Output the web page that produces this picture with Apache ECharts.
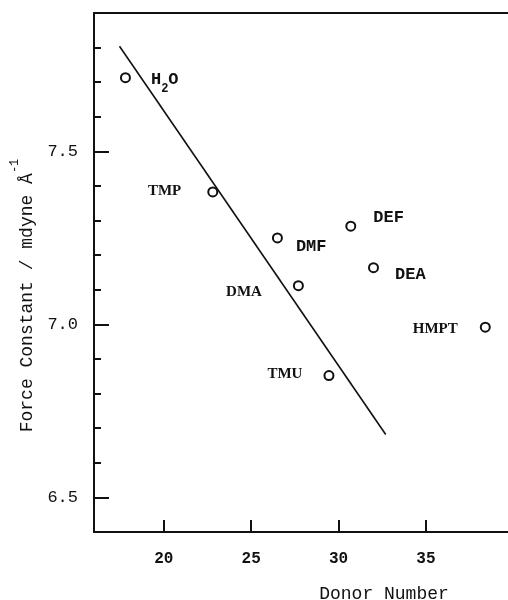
<!DOCTYPE html>
<html>
<head>
<meta charset="utf-8">
<script src="https://cdn.jsdelivr.net/npm/echarts@6/dist/echarts.min.js"></script>
<style>
html,body{margin:0;padding:0;background:#fff;}
#c{width:508px;height:600px;}
</style>
</head>
<body>
<div id="c"></div>
<script>
// ---- data ----
const solvents = ['H2O', 'TMP', 'DMF', 'DEF', 'DEA', 'DMA', 'TMU', 'HMPT'];
const donorNumber = [17.8, 22.8, 26.5, 30.7, 32.0, 27.7, 29.45, 38.4];
const forceConstant = [7.713, 7.383, 7.250, 7.284, 7.164, 7.112, 6.852, 6.992];
const fitLineX = [17.46, 32.70];
const fitLineY = [7.804, 6.682];
const xTickValues = [20, 25, 30, 35];
const yMajorTicks = [6.5, 7.0, 7.5];
const yMinorTicks = [6.6, 6.7, 6.8, 6.9, 7.1, 7.2, 7.3, 7.4, 7.6, 7.7, 7.8];

const MONO = '"Liberation Mono", "DejaVu Sans Mono", monospace';
const SERIF = '"Liberation Serif", "DejaVu Serif", serif';
const INK = '#111';

// per-label placement (style only)
const labelStyle = {
  'H2O':  {position: 'right', distance: 20, offset: [0, 2], font: 'mono'},
  'TMP':  {position: 'left', distance: 26, offset: [0, -1], font: 'serif'},
  'DMF':  {position: 'right', distance: 13, offset: [0, 9], font: 'mono'},
  'DEF':  {position: 'right', distance: 17, offset: [0, -8], font: 'mono'},
  'DEA':  {position: 'right', distance: 16, offset: [0, 7], font: 'mono'},
  'DMA':  {position: 'left', distance: 31, offset: [0, 6], font: 'serif'},
  'TMU':  {position: 'left', distance: 21, offset: [0, -1], font: 'serif'},
  'HMPT': {position: 'left', distance: 22, offset: [0, 2], font: 'serif'}
};

const scatterData = solvents.map((s, i) => {
  const st = labelStyle[s];
  return {
    value: [donorNumber[i], forceConstant[i]],
    name: s,
    label: {
      show: true,
      position: st.position,
      distance: st.distance,
      offset: st.offset,
      formatter: s === 'H2O' ? '{a|H}{s|2}{a|O}' : (st.font === 'mono' ? '{a|' + s + '}' : '{b|' + s + '}'),
      rich: {
        a: {fontFamily: MONO, fontSize: 17, fontWeight: 'bold', color: INK},
        s: {fontFamily: MONO, fontSize: 12, fontWeight: 'bold', color: INK, padding: [18, 0, 0, 0]},
        b: {fontFamily: SERIF, fontSize: 15, fontWeight: 'bold', color: INK}
      }
    }
  };
});

const chart = echarts.init(document.getElementById('c'), null, {renderer: 'canvas'});
chart.setOption({
  backgroundColor: '#fff',
  animation: false,
  grid: {left: 94, right: 0, top: 13, bottom: 68, containLabel: false, outerBoundsMode: 'none'},
  xAxis: [{
    type: 'value', min: 16, max: 39.7, interval: 1,
    axisLine: {show: true, lineStyle: {color: INK, width: 2}},
    axisTick: {show: true, inside: true, length: 12, customValues: xTickValues, lineStyle: {color: INK, width: 2}},
    axisLabel: {show: true, customValues: xTickValues, margin: 19, fontFamily: MONO, fontSize: 16, fontWeight: 'bold', color: INK},
    splitLine: {show: false},
    name: 'Donor Number',
    nameLocation: 'middle',
    nameGap: 53,
    nameTextStyle: {fontFamily: MONO, fontSize: 18, color: INK, padding: [0, 0, 0, 166]}
  }, {
    type: 'value', min: 16, max: 39.7, position: 'top',
    axisLine: {show: true, lineStyle: {color: INK, width: 2}},
    axisTick: {show: false}, axisLabel: {show: false}, splitLine: {show: false}
  }],
  yAxis: [{
    type: 'value', min: 6.4, max: 7.9, interval: 0.1,
    axisLine: {show: true, lineStyle: {color: INK, width: 2}},
    axisTick: {show: true, inside: true, length: 15, customValues: yMajorTicks, lineStyle: {color: INK, width: 2}},
    axisLabel: {show: true, customValues: yMajorTicks, margin: 16, fontFamily: MONO, fontSize: 17, color: INK,
      formatter: v => v.toFixed(1)},
    splitLine: {show: false},
    name: '{m|Force Constant / mdyne Å}{s|-1}',
    nameLocation: 'middle',
    nameRotate: 90,
    nameGap: 42,
    nameTextStyle: {
      padding: [0, 46, 0, 0],
      rich: {
        m: {fontFamily: MONO, fontSize: 18, color: INK},
        s: {fontFamily: MONO, fontSize: 12, color: INK, padding: [0, 0, 26, 0]}
      }
    }
  }, {
    type: 'value', min: 6.4, max: 7.9, interval: 0.1, position: 'left',
    axisLine: {show: false},
    axisTick: {show: true, inside: true, length: 7, customValues: yMinorTicks, lineStyle: {color: INK, width: 2}},
    axisLabel: {show: false}, splitLine: {show: false}
  }],
  series: [{
    type: 'line',
    data: fitLineX.map((x, i) => [x, fitLineY[i]]),
    symbol: 'none',
    lineStyle: {color: INK, width: 1.6},
    silent: true
  }, {
    type: 'scatter',
    data: scatterData,
    symbol: 'circle',
    symbolSize: 9,
    itemStyle: {color: '#fff', borderColor: INK, borderWidth: 2, opacity: 1}
  }]
});
</script>
</body>
</html>
